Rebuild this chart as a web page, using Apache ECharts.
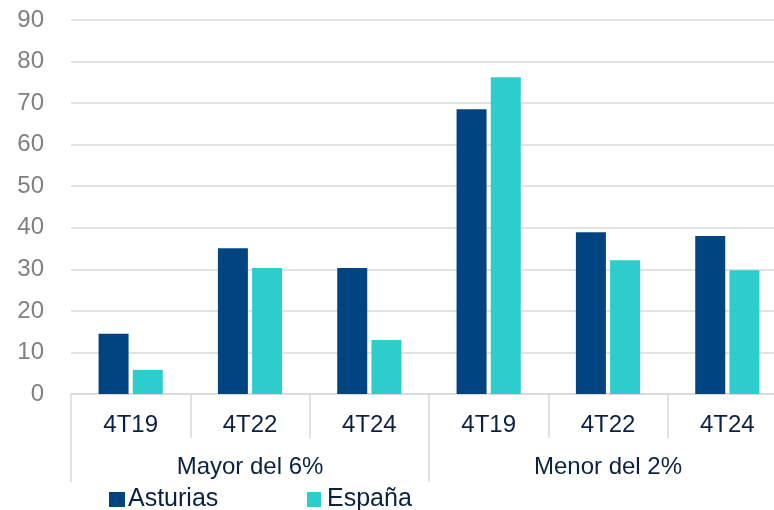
<!DOCTYPE html>
<html>
<head>
<meta charset="utf-8">
<script src="https://cdn.jsdelivr.net/npm/echarts@6/dist/echarts.min.js"></script>
<style>
    html, body { margin: 0; padding: 0; background: #fff; }
    #chart { width: 774px; height: 510px; }
</style>
</head>
<body>
<div id="chart"></div>
<script>
// datos
var periods = ['4T19', '4T22', '4T24', '4T19', '4T22', '4T24'];
var groups = ['Mayor del 6%', 'Menor del 2%'];
var asturias = [14.5, 35.1, 30.3, 68.5, 38.9, 38.0];
var espana = [5.8, 30.3, 13.0, 76.2, 32.2, 29.8];
var yMin = 0, yMax = 90, yStep = 10;

var FONT = 'Liberation Sans, Arial, sans-serif';
var GRID_GREY = '#d9d9d9';
var TEXT_NAVY = '#0b2142';
var FS = 24;

var myChart = echarts.init(document.getElementById('chart'));

var option = {
    animation: false,
    color: ['#004481', '#2dcccd'],
    grid: {
        left: 71,
        top: 20,
        width: 716,   // el grafico original sigue mas alla del borde derecho
        bottom: 116,
        outerBoundsMode: 'none'
    },
    legend: [
        {
            data: ['Asturias'],
            left: 109,
            top: 487,
            padding: 0,
            itemWidth: 16,
            itemHeight: 15,
            itemGap: 0,
            icon: 'rect',
            textStyle: { color: TEXT_NAVY, fontSize: 25, fontFamily: FONT, padding: [0, 0, 0, -2] }
        },
        {
            data: ['España'],
            left: 307,
            top: 487,
            padding: 0,
            itemWidth: 14,
            itemHeight: 15,
            itemGap: 0,
            icon: 'rect',
            textStyle: { color: TEXT_NAVY, fontSize: 25, fontFamily: FONT, padding: [0, 0, 0, 1] }
        }
    ],
    xAxis: [
        {
            type: 'category',
            data: periods,
            axisLine: { show: true, lineStyle: { color: GRID_GREY, width: 1.5 } },
            axisTick: { show: true, interval: 0, length: 44, lineStyle: { color: GRID_GREY, width: 1.5 } },
            axisLabel: { color: TEXT_NAVY, fontSize: FS, fontFamily: FONT, margin: 19, interval: 0 }
        },
        {
            type: 'category',
            data: groups,
            position: 'bottom',
            offset: 44,
            axisLine: { show: false },
            axisTick: { show: true, interval: 0, length: 44, lineStyle: { color: GRID_GREY, width: 1.5 } },
            axisLabel: { color: TEXT_NAVY, fontSize: FS, fontFamily: FONT, margin: 17, interval: 0 }
        }
    ],
    yAxis: {
        type: 'value',
        min: yMin,
        max: yMax,
        interval: yStep,
        axisLine: { show: false },
        axisTick: { show: false },
        axisLabel: { color: '#808080', fontSize: FS, fontFamily: FONT, margin: 27 },
        splitLine: { lineStyle: { color: GRID_GREY, width: 1.5 } }
    },
    series: [
        {
            name: 'Asturias',
            type: 'bar',
            xAxisIndex: 0,
            barWidth: 30,
            barGap: '14%',
            data: asturias
        },
        {
            name: 'España',
            type: 'bar',
            xAxisIndex: 0,
            barWidth: 30,
            barGap: '14%',
            data: espana
        }
    ]
};

myChart.setOption(option);
</script>
</body>
</html>
